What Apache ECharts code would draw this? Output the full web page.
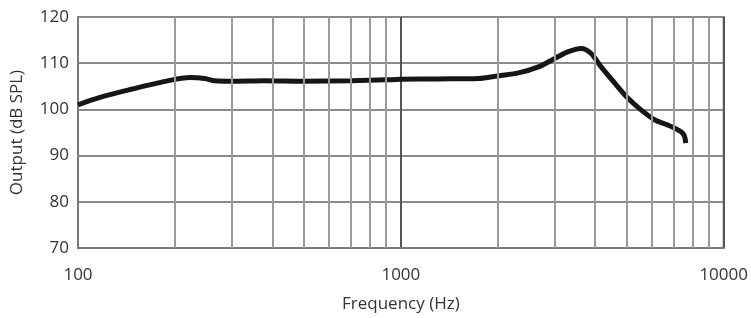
<!DOCTYPE html>
<html><head><meta charset="utf-8">
<script src="https://cdn.jsdelivr.net/npm/echarts@6/dist/echarts.min.js"></script>
<style>html,body{margin:0;padding:0;background:#fff}#c{width:751px;height:318px}</style>
</head><body><div id="c"></div>
<script>
var freqs = [100,117,145,179,199,222,247,265,300,378,500,700,900,1000,1300,1741,2006,2313,2667,3009,3300,3619,3886,4173,4609,5055,5544,6124,6718,7368,7550,7634];
var output = [101.0,102.6,104.3,105.8,106.5,106.9,106.7,106.2,106.1,106.2,106.1,106.2,106.4,106.5,106.6,106.7,107.3,107.9,109.2,111.1,112.5,113.2,112.1,109.2,105.6,102.4,99.9,97.7,96.6,95.2,94.3,92.7];
var minorFreqs = [200,300,400,500,600,700,800,900,2000,3000,4000,5000,6000,7000,8000,9000];
var yTicks = [70,80,90,100,110,120];

var chart = echarts.init(document.getElementById('c'));
var font = 'Open Sans';
chart.setOption({
  animation:false,
  grid:{left:78,top:17,right:24,bottom:70,show:true,borderColor:'#7a7a7a',borderWidth:2},
  xAxis:{type:'log',logBase:10,min:100,max:10000,
    name:'Frequency (Hz)',nameLocation:'middle',nameGap:48,
    nameTextStyle:{color:'#333',fontSize:17,fontFamily:font},
    axisLine:{show:true,lineStyle:{color:'#7a7a7a',width:2}},
    axisTick:{show:false},
    axisLabel:{color:'#333',fontSize:17,fontFamily:font,margin:19,formatter:function(v){return String(v);}},
    splitLine:{show:true,lineStyle:{color:'#555',width:2}}
  },
  yAxis:{type:'value',min:yTicks[0],max:yTicks[yTicks.length-1],interval:10,
    name:'Output (dB SPL)',nameLocation:'middle',nameGap:52,
    nameTextStyle:{color:'#333',fontSize:17,fontFamily:font},
    axisLine:{show:true,lineStyle:{color:'#7a7a7a',width:2}},
    axisTick:{show:false},
    axisLabel:{color:'#333',fontSize:17,fontFamily:font,margin:9},
    splitLine:{show:true,lineStyle:{color:'#8a8a8a',width:2}}
  },
  series:[
    {type:'line',data:[],z:1,silent:true,
     markLine:{silent:true,symbol:['none','none'],label:{show:false},
       lineStyle:{type:'solid',color:'#9a9a9a',width:2},
       data:minorFreqs.map(function(f){return {xAxis:f};})}},
    {type:'line',z:3,smooth:0.3,showSymbol:false,
     lineStyle:{color:'#161616',width:5},
     data:freqs.map(function(f,i){return [f,output[i]];})}
  ]
});
</script></body></html>
